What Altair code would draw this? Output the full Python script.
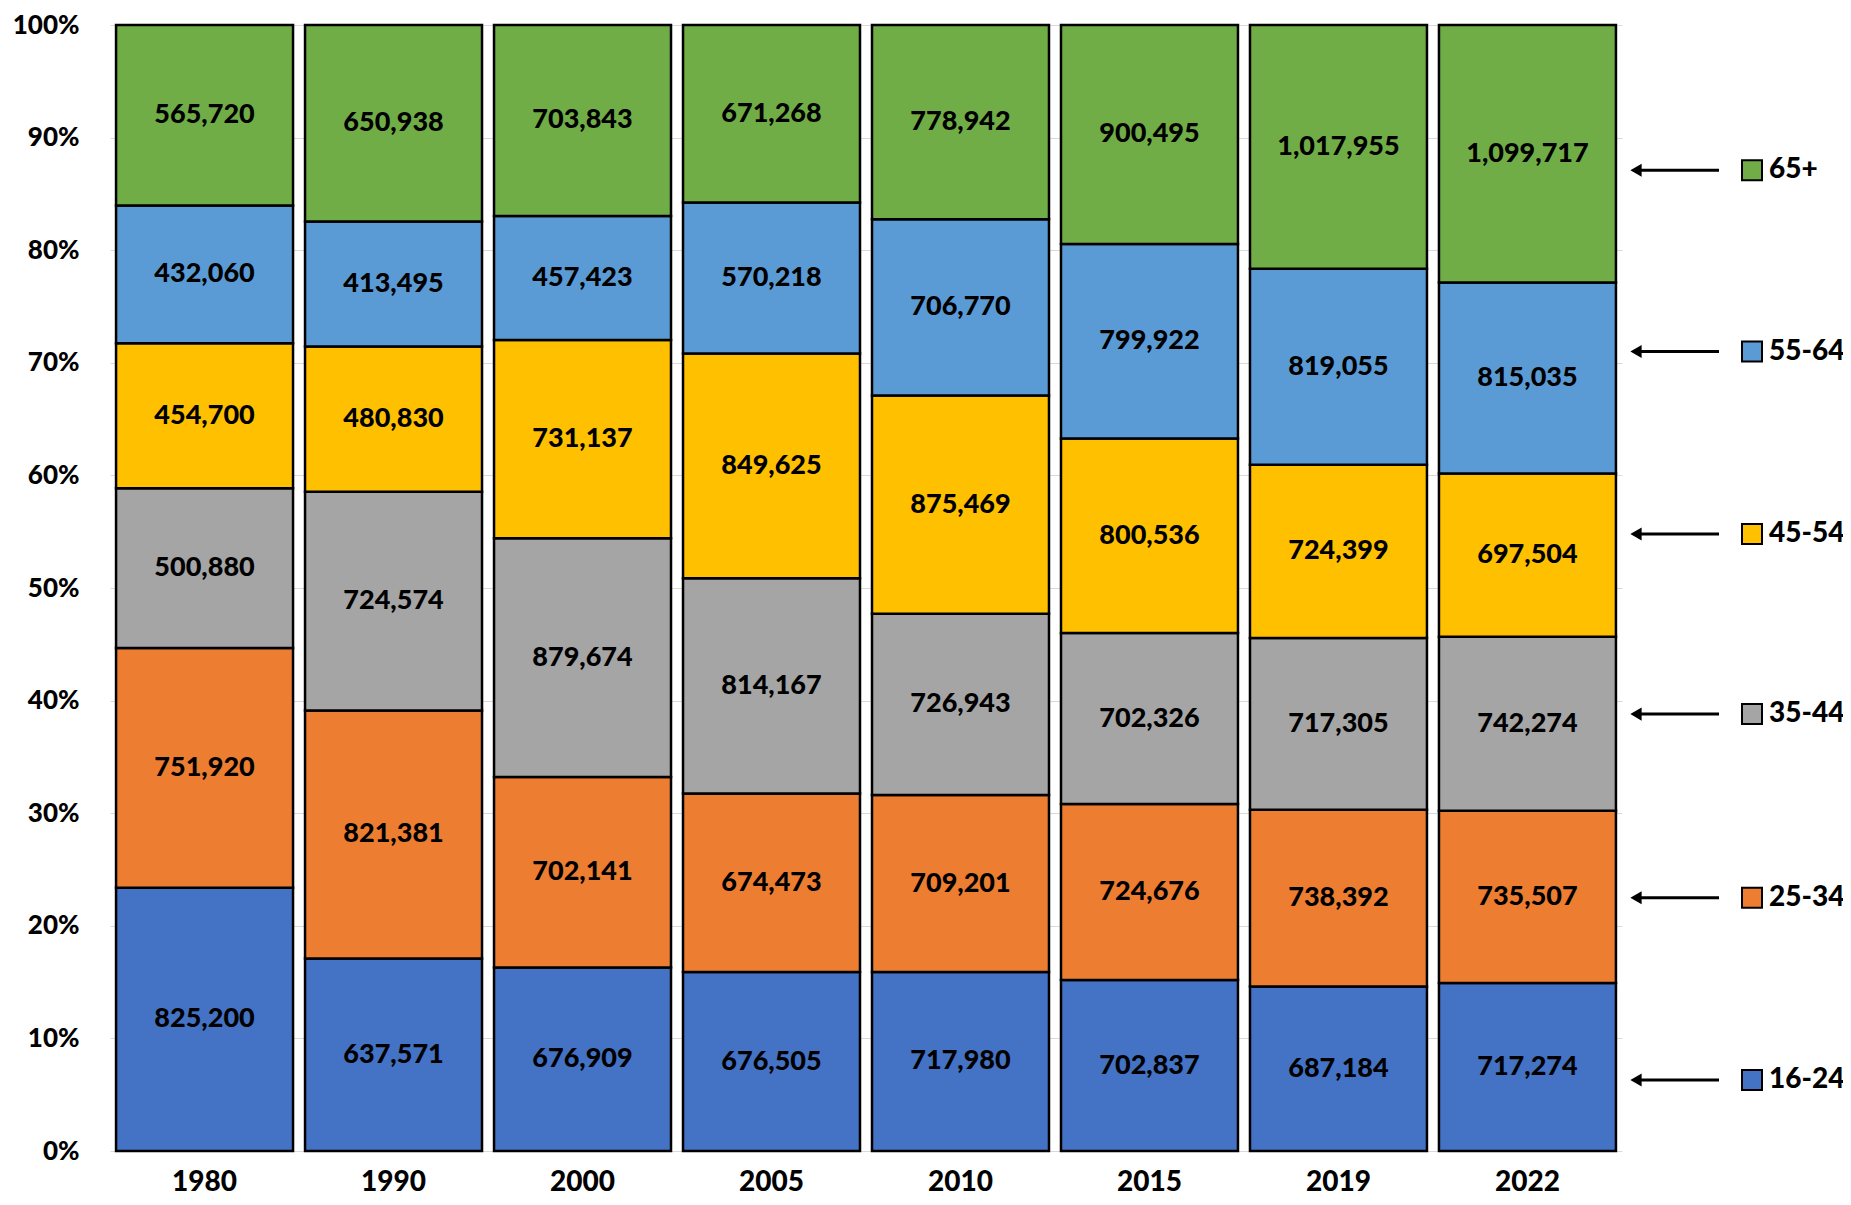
import altair as alt
import pandas as pd

years = ["1980", "1990", "2000", "2005", "2010", "2015", "2019", "2022"]
groups = ["16-24", "25-34", "35-44", "45-54", "55-64", "65+"]
colors = ["#4472C4", "#ED7D31", "#A5A5A5", "#FFC000", "#5B9BD5", "#70AD47"]

v_16_24 = [825200, 637571, 676909, 676505, 717980, 702837, 687184, 717274]
v_25_34 = [751920, 821381, 702141, 674473, 709201, 724676, 738392, 735507]
v_35_44 = [500880, 724574, 879674, 814167, 726943, 702326, 717305, 742274]
v_45_54 = [454700, 480830, 731137, 849625, 875469, 800536, 724399, 697504]
v_55_64 = [432060, 413495, 457423, 570218, 706770, 799922, 819055, 815035]
v_65p = [565720, 650938, 703843, 671268, 778942, 900495, 1017955, 1099717]
series = [v_16_24, v_25_34, v_35_44, v_45_54, v_55_64, v_65p]

# where the legend arrows point (share of the axis)
legend_pos = [0.063, 0.225, 0.388, 0.548, 0.710, 0.871]

rows = []
for gi, (g, vals) in enumerate(zip(groups, series)):
    for yr, v in zip(years, vals):
        rows.append({"year": yr, "group": g, "idx": gi, "value": v, "label": f"{v:,}"})
df = pd.DataFrame(rows)
leg = pd.DataFrame({"group": groups, "pos": legend_pos})

FONT = "Lato"
W = 900
yscale = alt.Scale(domain=[0, 1], nice=False)
cscale = alt.Scale(domain=groups, range=colors)

xenc = alt.X(
    "year:N", sort=years,
    scale=alt.Scale(paddingInner=0.0635, paddingOuter=0.032),
    axis=alt.Axis(title=None, labelAngle=0, labelFont=FONT, labelFontSize=28,
                  labelFontWeight=W, labelColor="black", ticks=False, tickSize=0,
                  domain=False, labelPadding=39, labelBaseline="alphabetic"),
)

yaxis = alt.Axis(title=None, values=[i / 10 for i in range(11)], format=".0%",
                 labelFont=FONT, labelFontSize=26, labelFontWeight=W,
                 labelColor="black", ticks=False, tickSize=0, domain=False,
                 labelPadding=31, grid=True, gridColor="#d9d9d9", gridWidth=1.2)

base = alt.Chart(df).transform_stack(
    stack="value", groupby=["year"], sort=[alt.SortField("idx", order="ascending")],
    offset="normalize", as_=["y0", "y1"],
).transform_calculate(mid="(datum.y0 + datum.y1) / 2")

bars = base.mark_bar(stroke="black", strokeWidth=2.5).encode(
    x=xenc,
    y=alt.Y("y0:Q", scale=yscale, axis=yaxis),
    y2="y1:Q",
    color=alt.Color("group:N", scale=cscale, legend=None),
)

labels = base.mark_text(font=FONT, fontSize=27, fontWeight=W, color="black",
                        baseline="middle").encode(
    x=xenc,
    y=alt.Y("mid:Q", scale=yscale, axis=yaxis),
    text="label:N",
)

legbase = alt.Chart(leg)
arrow_line = legbase.mark_rule(color="black", strokeWidth=3).encode(
    x=alt.value(1530), x2=alt.value(1609),
    y=alt.Y("pos:Q", scale=yscale, axis=yaxis),
)
arrow_head = legbase.mark_point(shape="triangle-left", filled=True, color="black",
                                size=170, opacity=1).encode(
    x=alt.value(1526), y=alt.Y("pos:Q", scale=yscale, axis=yaxis),
)
square = legbase.mark_square(size=400, stroke="black", strokeWidth=2, opacity=1).encode(
    x=alt.value(1642), y=alt.Y("pos:Q", scale=yscale, axis=yaxis),
    color=alt.Color("group:N", scale=cscale, legend=None),
)
legtext = legbase.mark_text(font=FONT, fontSize=28, fontWeight=W, color="black",
                            align="left", baseline="middle").encode(
    x=alt.value(1659), y=alt.Y("pos:Q", scale=yscale, axis=yaxis), text="group:N",
)

chart = alt.layer(bars, labels, arrow_line, arrow_head, square, legtext).properties(
    width=1512, height=1126,
    autosize=alt.AutoSizeParams(type="none"),
    padding={"left": 102, "top": 17, "right": 221, "bottom": 46},
).configure_view(stroke=None)

chart.save("out.html", embed_options={"renderer": "svg", "actions": False})
